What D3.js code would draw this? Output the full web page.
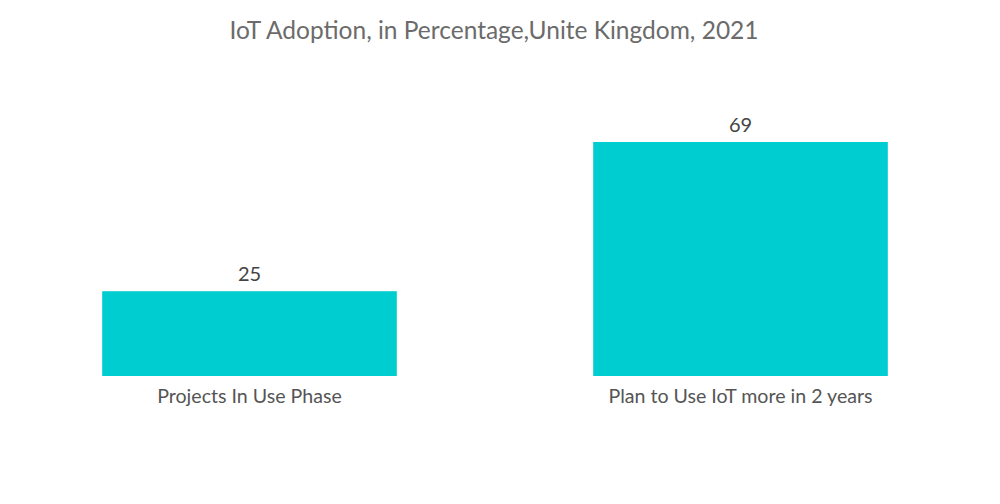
<!DOCTYPE html>
<html lang="en">
<head>
<meta charset="utf-8" />
<title>IoT Adoption, in Percentage, United Kingdom, 2021</title>
<style>
html, body {
	margin: 0;
	padding: 0;
	background: #fff;
}
svg {
	display: block;
	font-family: Lato, "Open Sans", sans-serif;
}
</style>
</head>
<body>
<svg width="1000" height="504"></svg>

<script src="https://cdn.jsdelivr.net/npm/d3@7/dist/d3.min.js"></script>
<script>

var categories = ["Projects In Use Phase", "Plan to Use IoT more in 2 years"];
var values = [25, 69];
var title = "IoT Adoption, in Percentage,Unite Kingdom, 2021";

var svg = d3.select("svg");

// 横方向のバンドスケール
var x = d3.scaleBand()
	.domain(categories)
	.range([4, 986])
	.paddingInner(0.4)
	.paddingOuter(0.2);

// 縦方向 (0 が棒の下端)
var y = d3.scaleLinear()
	.domain([0, 69])
	.range([376, 142]);

svg.append("text")
	.attr("x", 494)
	.attr("y", 39)
	.attr("text-anchor", "middle")
	.attr("fill", "#6b6b6b")
	.attr("font-size", 24.5)
	.text(title);

var data = categories.map(function(c, i){ return {cat: c, val: values[i]}; });

var g = svg.append("g");

g.selectAll("rect")
	.data(data)
	.enter().append("rect")
	.attr("x", function(d){ return x(d.cat); })
	.attr("width", x.bandwidth())
	.attr("y", function(d){ return y(d.val); })
	.attr("height", function(d){ return y(0) - y(d.val); })
	.attr("fill", "#00cdcf");

// 値ラベル
g.selectAll(".val")
	.data(data)
	.enter().append("text")
	.attr("class", "val")
	.attr("x", function(d){ return x(d.cat) + x.bandwidth() / 2; })
	.attr("y", function(d){ return y(d.val) - 10; })
	.attr("text-anchor", "middle")
	.attr("fill", "#444")
	.attr("font-size", 20)
	.text(function(d){ return d.val; });

// カテゴリラベル
var axis = d3.axisBottom(x).tickSize(0).tickPadding(13);
var ax = svg.append("g")
	.attr("transform", "translate(0," + y(0) + ")")
	.call(axis);
ax.select(".domain").remove();
ax.selectAll("text")
	.attr("fill", "#555")
	.attr("font-size", 19.6)
	.attr("font-family", "Lato, 'Open Sans', sans-serif");

</script>
</body>
</html>
